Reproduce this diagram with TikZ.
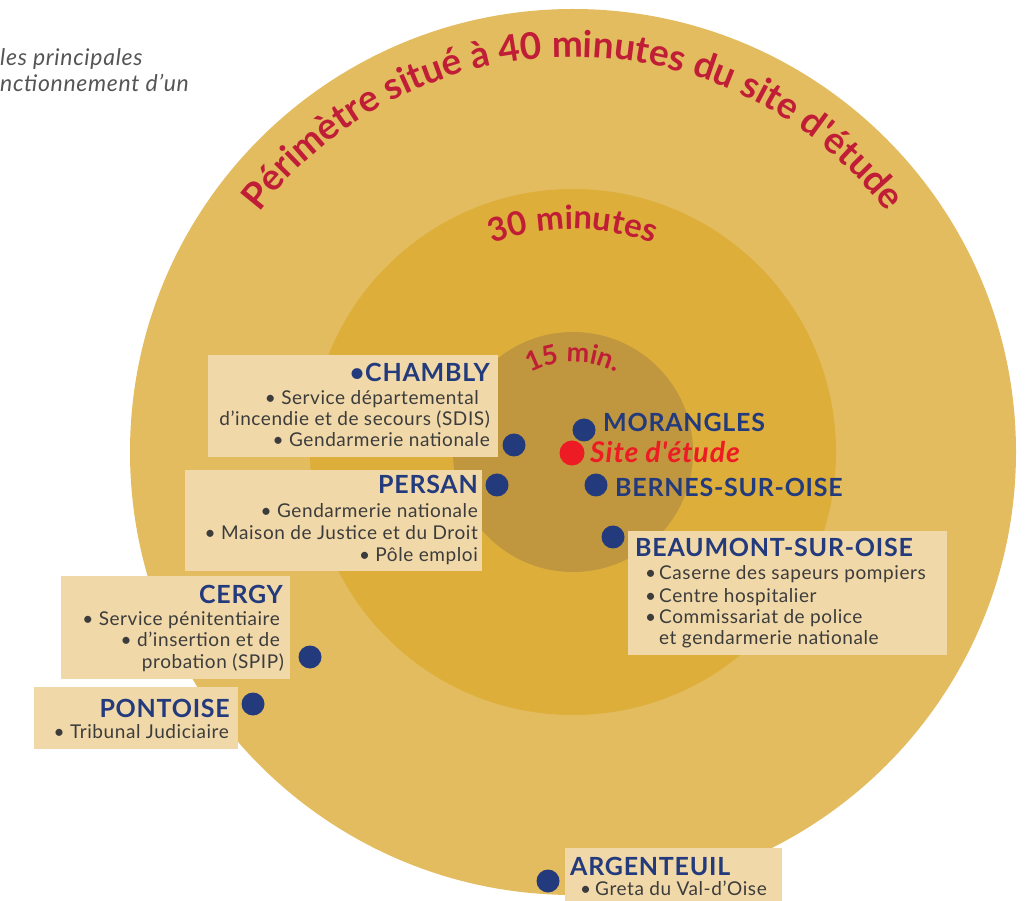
\documentclass[tikz,border=0pt]{standalone}
\usepackage{fontspec}
\newfontfamily\mf{Lato}
\newfontfamily\latosp{Lato}[LetterSpace=3]
\usetikzlibrary{decorations.text}
\definecolor{ringA}{RGB}{227,188,96}
\definecolor{ringB}{RGB}{221,174,58}
\definecolor{ringC}{RGB}{192,150,62}
\definecolor{boxfill}{RGB}{240,216,168}
\definecolor{cityblue}{RGB}{35,58,125}
\definecolor{bodygrey}{RGB}{60,60,60}
\definecolor{titlered}{RGB}{192,30,55}
\definecolor{siterred}{RGB}{237,28,36}
\definecolor{notegrey}{RGB}{85,85,85}
\begin{document}
\begin{tikzpicture}[x=1pt,y=1pt,
  bdot/.style={circle,fill=cityblue,inner sep=0pt,minimum size=23pt},
  rdot/.style={circle,fill=siterred,inner sep=0pt,minimum size=25pt},
  labelbox/.style={fill=boxfill,draw=none},
  city/.style={inner sep=0pt,text=cityblue,font=\latosp\fontsize{25}{25}\selectfont\bfseries},
  body/.style={inner sep=0pt,text=bodygrey,font=\latosp\fontsize{19}{19}\selectfont},
  note/.style={inner sep=0pt,text=notegrey,font=\latosp\fontsize{23}{23}\selectfont\itshape},
]
\useasboundingbox (0,0) rectangle (1027,900);
\coordinate (c) at (573,448);
% rings
\fill[ringA] (c) circle (443);
\fill[ringB] (c) circle (263);
\fill[ringC] (c) circle (120);
% curved titles
\path[decorate,decoration={text along path,text align=center,
  text={|\mf\fontsize{37}{37}\selectfont\bfseries\color{titlered}|Périmètre situé à 40 minutes du site d'étude}}]
  ([shift={(180:395)}]c) arc (180:0:395);
\path[decorate,decoration={text along path,text align=center,
  text={|\mf\fontsize{33}{33}\selectfont\bfseries\color{titlered}|30 minutes}}]
  ([shift={(180:223)}]c) arc (180:0:223);
\path[decorate,decoration={text along path,text align=center,
  text={|\mf\fontsize{27}{27}\selectfont\bfseries\color{titlered}|15 min.}}]
  ([shift={(180:90)}]c) arc (180:0:90);
% top-left note
\node[note,anchor=base west] (note1) at (0,834) {les principales};
\node[note,anchor=base west] (note2) at (0,808) {nctionnement d’un};
% boxes
\fill[labelbox] (208,443) rectangle (498,545);
\fill[labelbox] (185,329) rectangle (482,430);
\fill[labelbox] (628,245) rectangle (947,369);
\fill[labelbox] (61,221) rectangle (290,324);
\fill[labelbox] (34,151) rectangle (238,213);
\fill[labelbox] (565,-5) rectangle (782,52);
% dots
\node[bdot] (dchambly) at (514,455) {};
\node[bdot] (dmorangles) at (584,470) {};
\node[rdot] (dsite) at (572,447) {};
\node[bdot] (dpersan) at (497,415) {};
\node[bdot] (dbernes) at (596,415) {};
\node[bdot] (dbeaumont) at (613,363) {};
\node[bdot] (dcergy) at (310,243) {};
\node[bdot] (dpontoise) at (253,196) {};
\node[bdot] (dargenteuil) at (548,19) {};
% central labels
\node[city,anchor=base west] (morangles) at (603,468) {MORANGLES};
\node[inner sep=0pt,anchor=base west,text=siterred,font=\latosp\fontsize{28.5}{28.5}\selectfont\bfseries\itshape] (site) at (590,437) {Site d'étude};
\node[city,anchor=base west] (bernes) at (615,403) {BERNES-SUR-OISE};
% Chambly
\node[city,anchor=base east] (chambly) at (490,518) {•CHAMBLY};
\node[body,anchor=base east] (cham1) at (479,495) {• Service départemental};
\node[body,anchor=base east] (cham2) at (490,474) {d’incendie et de secours (SDIS)};
\node[body,anchor=base east] (cham3) at (490,453) {• Gendarmerie nationale};
% Persan
\node[city,anchor=base east] (persan) at (478,406) {PERSAN};
\node[body,anchor=base east] (pers1) at (478,382) {• Gendarmerie nationale};
\node[body,anchor=base east] (pers2) at (478,360) {• Maison de Justice et du Droit};
\node[body,anchor=base east] (pers3) at (478,338) {• Pôle emploi};
% Beaumont
\node[city,anchor=base west] (beaumont) at (635,343) {BEAUMONT-SUR-OISE};
\node[body,anchor=base west] (beau1) at (645,320) {\makebox[14pt][l]{•}Caserne des sapeurs pompiers};
\node[body,anchor=base west] (beau2) at (645,298) {\makebox[14pt][l]{•}Centre hospitalier};
\node[body,anchor=base west] (beau3) at (645,277) {\makebox[14pt][l]{•}Commissariat de police};
\node[body,anchor=base west] (beau4) at (659,256) {et gendarmerie nationale};
% Cergy
\node[city,anchor=base east] (cergy) at (283,297) {CERGY};
\node[body,anchor=base east] (cerg1) at (280,275) {• Service pénitentiaire};
\node[body,anchor=base east] (cerg2) at (280,254) {• d’insertion et de};
\node[body,anchor=base east] (cerg3) at (284,232) {probation (SPIP)};
% Pontoise
\node[city,anchor=base east] (pontoise) at (230,183) {PONTOISE};
\node[body,anchor=base east] (pont1) at (229,162) {• Tribunal Judiciaire};
% Argenteuil
\node[city,anchor=base west] (argenteuil) at (570,25) {ARGENTEUIL};
\node[body,anchor=base west] (arg1) at (580,5) {\makebox[15pt][l]{•}Greta du Val-d’Oise};
\end{tikzpicture}
\end{document}
